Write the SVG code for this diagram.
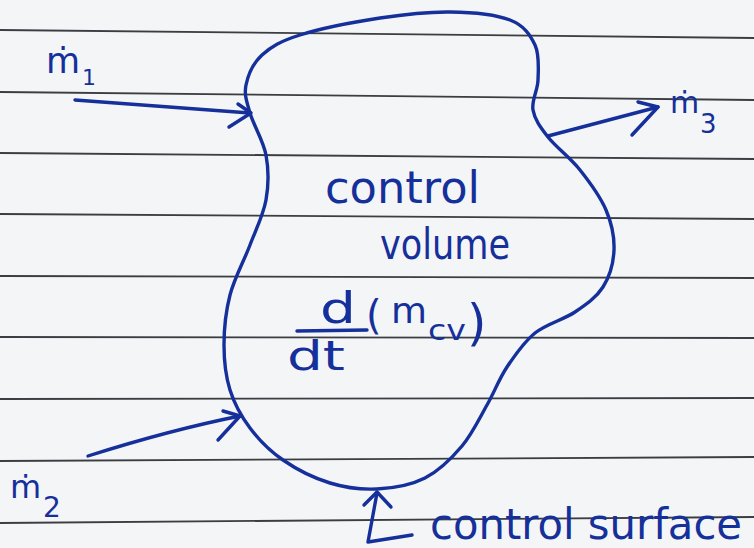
<svg xmlns="http://www.w3.org/2000/svg" width="754" height="548" viewBox="0 0 754 548">
  <style>
    .rule { stroke: #3b3d42; stroke-width: 1.8; fill: none; }
    .ink { stroke: #15309a; stroke-width: 3.4; fill: none; stroke-linecap: round; stroke-linejoin: round; }
    .hand { font-family: "DejaVu Sans", "Liberation Sans", sans-serif; fill: #15309a; }
  </style>

  <!-- ruled notebook paper -->
  <g id="paper">
    <rect x="0" y="0" width="754" height="548" fill="#f4f5f7"/>
    <line class="rule" x1="0" y1="30" x2="754" y2="38"/>
    <line class="rule" x1="0" y1="92" x2="754" y2="100"/>
    <line class="rule" x1="0" y1="153" x2="754" y2="159"/>
    <line class="rule" x1="0" y1="214" x2="754" y2="219"/>
    <line class="rule" x1="0" y1="276" x2="754" y2="278"/>
    <line class="rule" x1="0" y1="337" x2="754" y2="338"/>
    <line class="rule" x1="0" y1="399" x2="754" y2="398"/>
    <line class="rule" x1="0" y1="461" x2="754" y2="457"/>
    <line class="rule" x1="0" y1="523" x2="754" y2="517"/>
  </g>

  <!-- control volume: closed blob with its labels -->
  <g id="control-volume">
    <path class="ink" d="M250,113 C246.7,101.3 244,94.7 246,85 C248,75.3 253,63.3 262,55 C271,46.7 280.3,41.2 300,35 C319.7,28.8 355,21.8 380,18 C405,14.2 428.3,11.7 450,12 C471.7,12.3 495.8,14.5 510,20 C524.2,25.5 530.3,35 535,45 C539.7,55 538.3,69.2 538,80 C537.7,90.8 531.3,100.5 533,110 C534.7,119.5 540.2,127 548,137 C555.8,147 570.3,157.8 580,170 C589.7,182.2 600.3,196.7 606,210 C611.7,223.3 614.5,237.2 614,250 C613.5,262.8 609.5,276.7 603,287 C596.5,297.3 586.3,304.3 575,312 C563.7,319.7 546.3,323.8 535,333 C523.7,342.2 515,355 507,367 C499,379 494.5,391.8 487,405 C479.5,418.2 472.3,433.8 462,446 C451.7,458.2 439.2,470.8 425,478 C410.8,485.2 392.8,488.2 377,489 C361.2,489.8 345.7,487.8 330,483 C314.3,478.2 296.3,469.2 283,460 C269.7,450.8 258.8,439.7 250,428 C241.2,416.3 234.3,403.8 230,390 C225.7,376.2 224,360.8 224,345 C224,329.2 225.7,311.7 230,295 C234.3,278.3 244,260.8 250,245 C256,229.2 263.3,215 266,200 C268.7,185 268.7,169.5 266,155 C263.3,140.5 253.3,124.7 250,113 Z"/>
    <text class="hand" x="325" y="203" font-size="44" textLength="155" lengthAdjust="spacingAndGlyphs">control</text>
    <text class="hand" x="380" y="259" font-size="42" textLength="130" lengthAdjust="spacingAndGlyphs">volume</text>
    <!-- d(m_cv)/dt -->
    <text class="hand" x="320" y="323" font-size="42" textLength="36" lengthAdjust="spacingAndGlyphs">d</text>
    <line class="ink" x1="297" y1="331" x2="367" y2="330" stroke-width="3"/>
    <text class="hand" x="287" y="370" font-size="40" textLength="58" lengthAdjust="spacingAndGlyphs">dt</text>
    <text class="hand" x="366" y="329" font-size="40">(</text>
    <text class="hand" x="391" y="323" font-size="36" textLength="36" lengthAdjust="spacingAndGlyphs">m</text>
    <text class="hand" x="428" y="340" font-size="28" textLength="38" lengthAdjust="spacingAndGlyphs">cv</text>
    <text class="hand" x="467" y="340" font-size="50">)</text>
  </g>

  <!-- mass flow labels -->
  <g id="m1">
    <text class="hand" x="46" y="73" font-size="35">ṁ<tspan x="82" y="85" font-size="22">1</tspan></text>
  </g>
  <g id="m2">
    <text class="hand" x="10" y="498" font-size="32">ṁ<tspan x="43" y="517" font-size="28">2</tspan></text>
  </g>
  <g id="m3">
    <text class="hand" x="670" y="113" font-size="30">ṁ<tspan x="700" y="133" font-size="26">3</tspan></text>
  </g>
  <g id="control-surface">
    <text class="hand" x="430" y="539" font-size="42" textLength="312" lengthAdjust="spacingAndGlyphs">control surface</text>
  </g>

  <!-- flow arrows and surface pointer -->
  <g id="connectors">
    <path class="ink" d="M75,100 L250,113"/>
    <path class="ink" d="M238,104 L251,113 L229,127"/>
    <path class="ink" d="M88,456 Q170,430 240,416"/>
    <path class="ink" d="M223,411 L240,416 L218,440"/>
    <path class="ink" d="M548,136 L658,107"/>
    <path class="ink" d="M638,102 L658,107 L632,135"/>
    <path class="ink" d="M364,505 L377,492 L391,507"/>
    <path class="ink" d="M377,493 L368,542 L412,535"/>
  </g>
</svg>
